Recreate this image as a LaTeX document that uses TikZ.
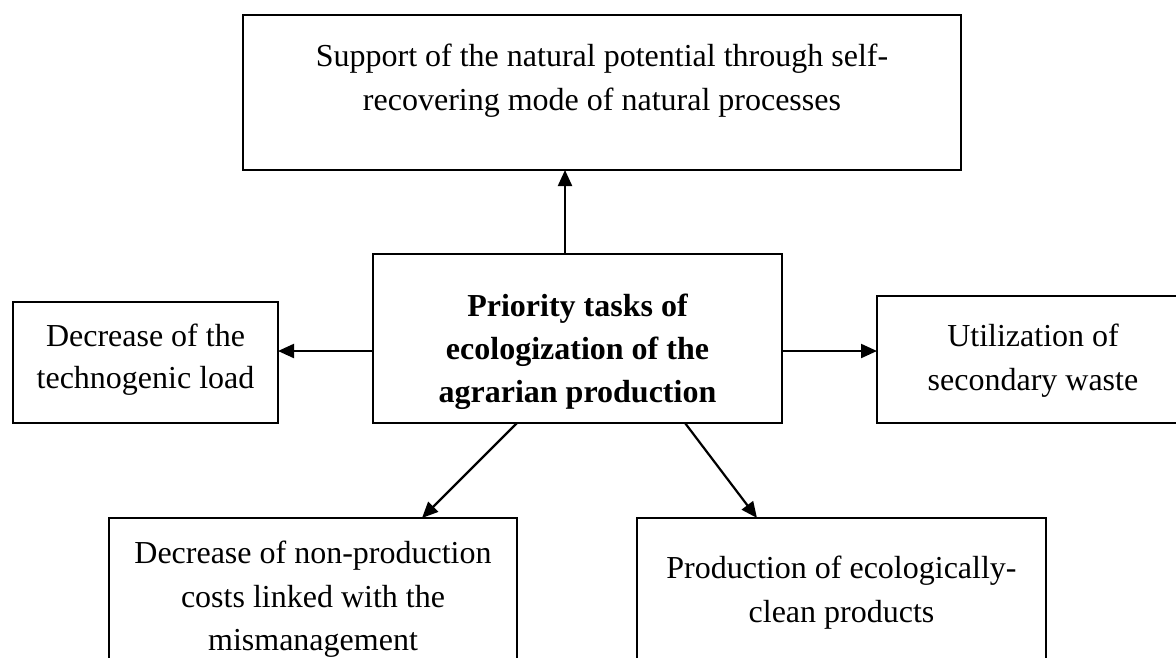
\documentclass[tikz,border=0pt]{standalone}
\usepackage{fontspec}
\setmainfont{Liberation Serif}
\usetikzlibrary{arrows.meta}
\begin{document}
\begin{tikzpicture}[x=1pt,y=-1pt,
  box/.style={draw=black,line width=2pt,inner sep=0pt,outer sep=0pt,fill=white},
  txt/.style={anchor=north,align=center,inner sep=0pt,font=\fontsize{32}{44}\selectfont,execute at begin node=\strut},
  arr/.style={line width=2.2pt,-{Triangle[length=16pt,width=14pt]}}]
\useasboundingbox (0,0) rectangle (1176,657);
\clip (0,0) rectangle (1176,657);
% boxes
\node[box,minimum width=718pt,minimum height=155pt] (top) at (602,92.5) {};
\node[box,minimum width=409pt,minimum height=169pt] (ctr) at (577.5,338.5) {};
\node[box,minimum width=265pt,minimum height=121pt] (lft) at (145.5,362.5) {};
\node[box,minimum width=313pt,minimum height=127pt] (rgt) at (1033.5,359.5) {};
\node[box,minimum width=408pt,minimum height=182pt] (bl) at (313,609) {};
\node[box,minimum width=409pt,minimum height=182pt] (br) at (841.5,609) {};
% texts
\node[txt] (ttop) at (602,44.25) {Support of the natural potential through self-\\recovering mode of natural processes};
\node[txt,font=\fontsize{32}{43}\selectfont\bfseries] (tctr) at (577.5,294) {Priority tasks of\\ecologization of the\\agrarian production};
\node[txt,font=\fontsize{32}{42}\selectfont] (tlft) at (145.5,324) {Decrease of the\\technogenic load};
\node[txt] (trgt) at (1033,324) {Utilization of\\secondary waste};
\node[txt,font=\fontsize{32}{43.5}\selectfont] (tbl) at (313,541) {Decrease of non-production\\costs linked with the\\mismanagement};
\node[txt] (tbr) at (841.5,556) {Production of ecologically-\\clean products};
% connectors
\draw[arr] ([xshift=-12.5pt]ctr.north) -- ([xshift=-37pt]top.south);
\draw[arr] ([yshift=-12.5pt]ctr.west) -- ([yshift=11.5pt]lft.east);
\draw[arr] ([yshift=-12.5pt]ctr.east) -- ([yshift=8.5pt]rgt.west);
\draw[arr] ([xshift=144pt]ctr.south west) -- ([xshift=313pt]bl.north west);
\draw[arr] ([xshift=312pt]ctr.south west) -- ([xshift=120pt]br.north west);
\end{tikzpicture}
\end{document}
